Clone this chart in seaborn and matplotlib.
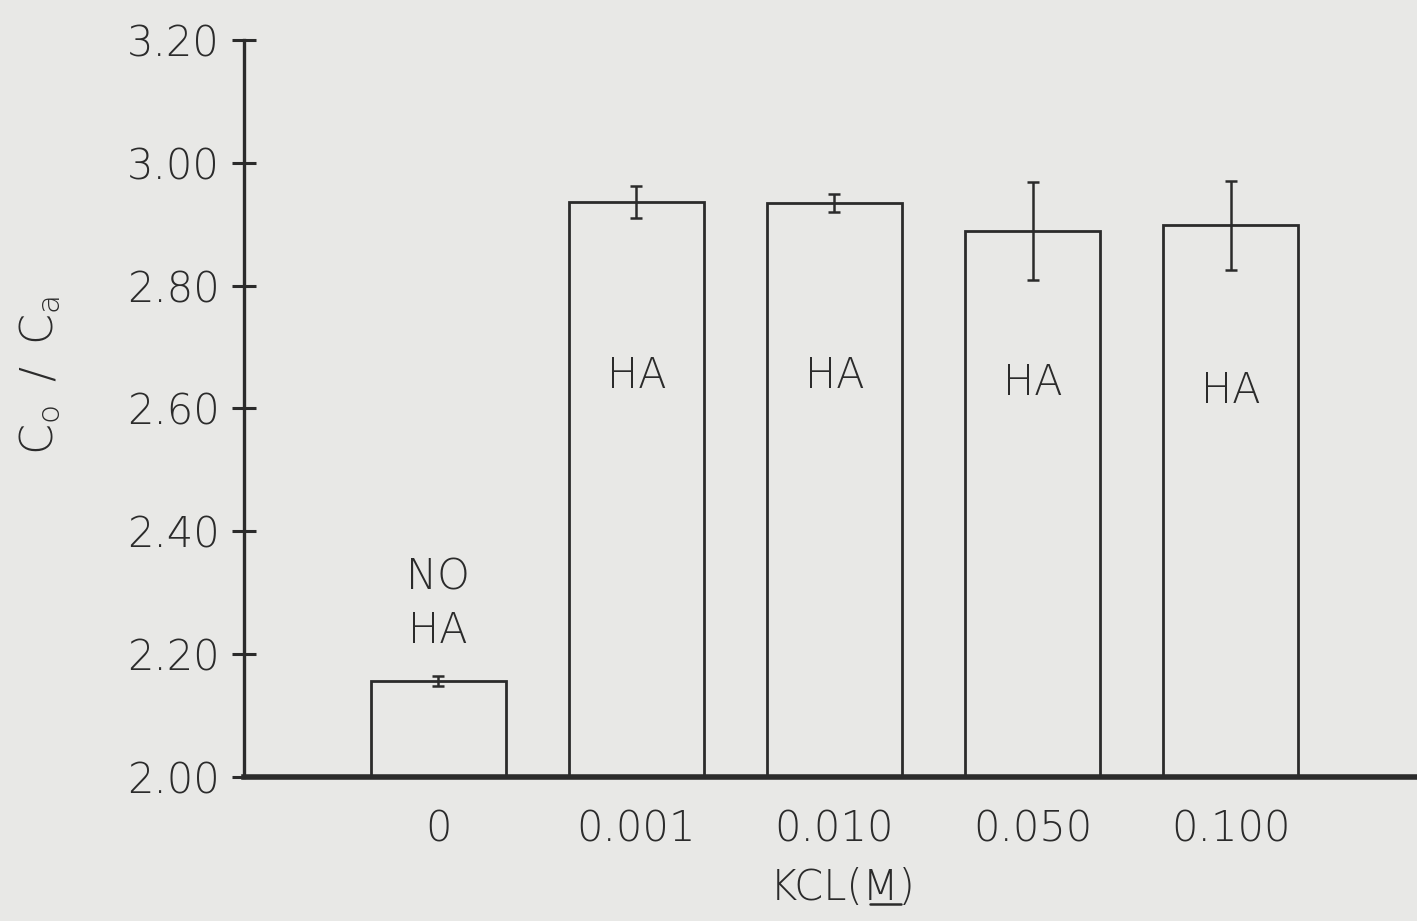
import matplotlib
matplotlib.use("Agg")
import matplotlib.pyplot as plt
from matplotlib.lines import Line2D
import seaborn as sns
import pandas as pd

# KCl concentration (M) and the measured Co/Ca ratio with its spread
kcl_labels = ["0", "0.001", "0.010", "0.050", "0.100"]
ratio = [2.156, 2.936, 2.935, 2.889, 2.898]
ratio_err = [0.008, 0.026, 0.015, 0.080, 0.072]
ha_y = [None, 2.653, 2.653, 2.642, 2.629]
y_ticks = [2.00, 2.20, 2.40, 2.60, 2.80, 3.00, 3.20]

paper = "#e8e8e6"
ink = "#2b2b2b"
FS = 30

sns.set_theme(style="white")
plt.rcParams["font.family"] = ["DejaVu Sans"]
plt.rcParams["font.weight"] = "light"
plt.rcParams["mathtext.fontset"] = "dejavusans"

fig = plt.figure(figsize=(14.17, 9.21), dpi=100, facecolor=paper)
ax = fig.add_axes([0.1722, 0.1564, 0.8278, 0.8002])
ax.set_facecolor(paper)

df = pd.DataFrame({"kcl": kcl_labels, "ratio": ratio})
sns.barplot(data=df, x="kcl", y="ratio", order=kcl_labels, ax=ax,
            width=0.68, color=paper, edgecolor=ink, linewidth=2.0,
            errorbar=None)

xpos = list(range(len(kcl_labels)))
ax.errorbar(xpos, ratio, yerr=ratio_err, fmt="none", ecolor=ink,
            elinewidth=1.8, capsize=4.5, capthick=1.8, zorder=3)

# labels inside / above the bars
for x, y in zip(xpos, ha_y):
    if y is not None:
        ax.text(x, y, "HA", ha="center", va="center", fontsize=FS,
                color=ink, fontweight="light")
ax.text(0, 2.326, "NO", ha="center", va="center", fontsize=FS, color=ink,
        fontweight="light")
ax.text(0, 2.239, "HA", ha="center", va="center", fontsize=FS, color=ink,
        fontweight="light")

ax.set_xlim(-0.98, 4.94)
ax.set_ylim(2.0, 3.2)
ax.set_yticks(y_ticks)
ax.set_yticklabels([f"{t:.2f}" for t in y_ticks], fontsize=FS, color=ink,
                   fontweight="light")
ax.set_xticklabels(kcl_labels, fontsize=FS, color=ink, fontweight="light")

ax.tick_params(axis="y", direction="inout", length=17, width=2.2,
               color=ink, pad=9, left=True)
ax.tick_params(axis="x", length=0, pad=23)

for side in ["top", "right"]:
    ax.spines[side].set_visible(False)
ax.spines["left"].set_linewidth(2.4)
ax.spines["left"].set_color(ink)
ax.spines["bottom"].set_linewidth(4.0)
ax.spines["bottom"].set_color(ink)

ax.set_ylabel(r"$\mathregular{C_{o}\,\ /\ \,C_{a}}$", fontsize=32, color=ink,
              fontweight="light")
ax.yaxis.set_label_coords(-0.155, 0.545)
ax.set_xlabel("KCL(M)", fontsize=FS, color=ink, fontweight="light")
ax.xaxis.set_label_coords(0.51, -0.122)

# underline beneath the M of the unit
fig.add_artist(Line2D([0.614, 0.636], [0.019, 0.019], transform=fig.transFigure,
                      color=ink, linewidth=1.8))

fig.savefig("out.png", dpi=100, facecolor=paper)
